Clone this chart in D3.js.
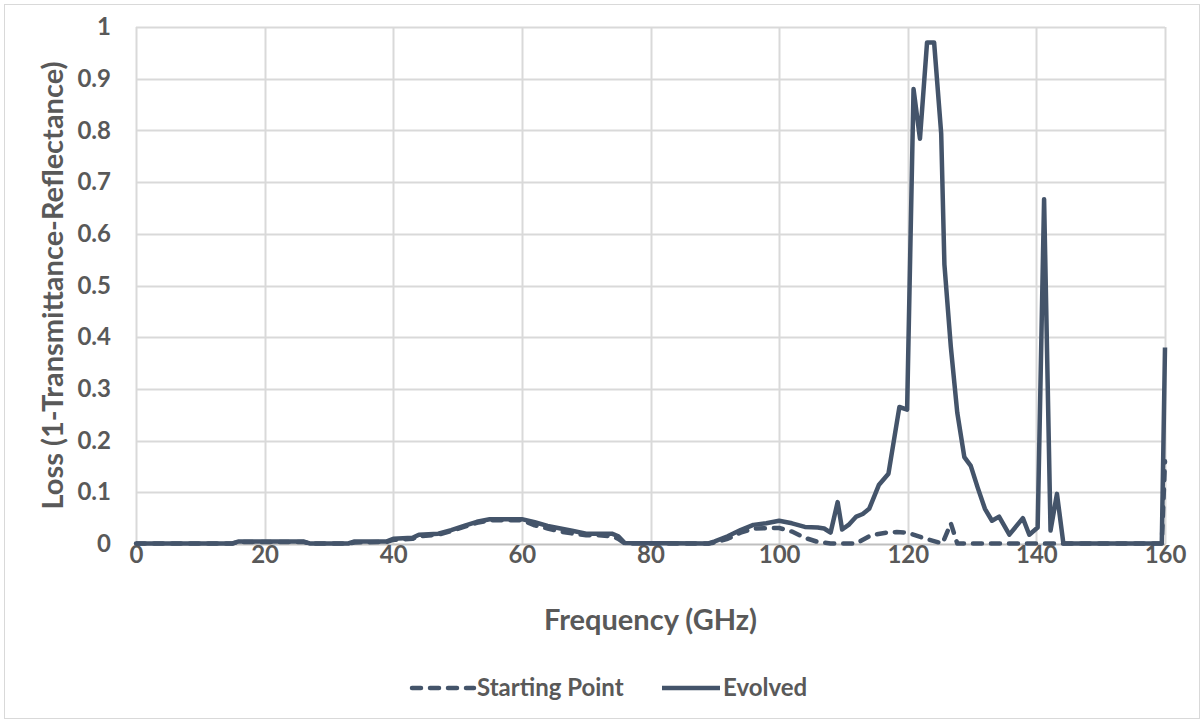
<!DOCTYPE html>
<html>
<head>
<meta charset="utf-8">
<script src="https://cdn.jsdelivr.net/npm/d3@7"></script>
<style>
  body { margin: 0; background: #fff; }
  text { font-family: Lato, "Open Sans", sans-serif; font-weight: bold; fill: #595959; }
</style>
</head>
<body>
<div id="chart"></div>
<script>
// Evolved design (frequency GHz, loss)
var evolvedFreq = [0, 15, 16, 26, 27, 33, 34, 39, 40, 43, 44, 47, 49, 51, 53, 55, 60, 62, 64, 66, 68, 70, 74, 75, 76, 89,
  90, 92, 94, 96, 98, 100, 102, 104, 106, 107, 108, 109.1, 109.8, 110.9, 112, 113, 114, 115.5, 117, 118.7, 119.9,
  120.9, 121.9, 123, 124.1, 125.2, 125.7, 126.7, 127.7, 128.8, 129.8, 130.9, 132, 133.1, 134.2, 135.8, 137.9, 138.9,
  140.2, 141.2, 142.2, 143.2, 144.2, 159.5, 160];
var evolvedLoss = [0.001, 0.001, 0.005, 0.005, 0.001, 0.001, 0.005, 0.005, 0.01, 0.012, 0.018, 0.02, 0.027, 0.035, 0.043, 0.048, 0.048, 0.042, 0.035, 0.03, 0.025, 0.02, 0.02, 0.015, 0.002, 0.001,
  0.005, 0.015, 0.027, 0.037, 0.04, 0.045, 0.04, 0.033, 0.032, 0.03, 0.022, 0.081, 0.028, 0.038, 0.053, 0.058, 0.068, 0.114, 0.136, 0.265, 0.26,
  0.88, 0.784, 0.97, 0.97, 0.794, 0.541, 0.381, 0.254, 0.168, 0.151, 0.108, 0.068, 0.045, 0.053, 0.018, 0.05, 0.018,
  0.032, 0.667, 0.026, 0.097, 0.001, 0.001, 0.38];

// Starting point design
var startFreq = [0, 15, 16, 26, 27, 33, 34, 39, 40, 43, 44, 47, 49, 51, 53, 55, 60, 62, 64, 66, 68, 70, 72, 74, 75, 76, 89,
  90, 92, 94, 96, 100, 102, 104, 106, 108, 112, 114.3, 116.7, 118.3, 120, 122.6, 125.4, 126.7, 127.7, 159.5, 160];
var startLoss = [0.001, 0.001, 0.004, 0.004, 0.001, 0.001, 0.003, 0.004, 0.008, 0.01, 0.015, 0.018, 0.025, 0.033, 0.041, 0.046, 0.046, 0.036, 0.03, 0.024, 0.02, 0.017, 0.017, 0.015, 0.01, 0.001, 0.001,
  0.003, 0.01, 0.022, 0.03, 0.031, 0.024, 0.012, 0.004, 0.001, 0.001, 0.017, 0.022, 0.023, 0.022, 0.011, 0.001, 0.04, 0.001, 0.001, 0.16];

var xTicks = [0, 20, 40, 60, 80, 100, 120, 140, 160];
var yTicks = [0, 0.1, 0.2, 0.3, 0.4, 0.5, 0.6, 0.7, 0.8, 0.9, 1];
var seriesNames = ["Starting Point", "Evolved"];

var svgWidth = 1204;
var svgHeight = 723;
var margin = { top: 27, right: 39, bottom: 179, left: 136 };
var width = svgWidth - margin.left - margin.right;
var height = svgHeight - margin.top - margin.bottom;
var lineColor = "#44546a";

var svg = d3.select("#chart")
  .append("svg")
  .attr("width", svgWidth)
  .attr("height", svgHeight);

// chart border
svg.append("rect")
  .attr("x", 4.5).attr("y", 4.5)
  .attr("width", 1195).attr("height", 714)
  .attr("fill", "#fff")
  .attr("stroke", "#d9d9d9");

var chartGroup = svg.append("g")
  .attr("transform", `translate(${margin.left}, ${margin.top})`);

var x = d3.scaleLinear().domain([0, 160]).range([0, width]);
var y = d3.scaleLinear().domain([0, 1]).range([height, 0]);

// gridlines
chartGroup.append("g")
  .selectAll("line.h")
  .data(yTicks.filter(d => d > 0))
  .enter().append("line")
  .attr("x1", 0).attr("x2", width)
  .attr("y1", d => Math.round(y(d)) + 0.5)
  .attr("y2", d => Math.round(y(d)) + 0.5)
  .attr("stroke", "#d9d9d9").attr("stroke-width", 2);

chartGroup.append("g")
  .selectAll("line.v")
  .data(xTicks)
  .enter().append("line")
  .attr("y1", 0).attr("y2", height)
  .attr("x1", d => Math.round(x(d)) + 0.5)
  .attr("x2", d => Math.round(x(d)) + 0.5)
  .attr("stroke", "#d9d9d9").attr("stroke-width", 2);

// axes
var xAxis = d3.axisBottom(x).tickValues(xTicks).tickSize(0).tickPadding(2);
var yAxis = d3.axisLeft(y).tickValues(yTicks).tickSize(0).tickPadding(25).tickFormat(d => d3.format("")(+d.toFixed(1)));

var gx = chartGroup.append("g")
  .attr("transform", `translate(0, ${height})`)
  .call(xAxis);
gx.select(".domain").attr("stroke", "#bfbfbf").attr("stroke-width", 2);
gx.selectAll("text").style("font-size", "24px").attr("fill", "#595959");

var gy = chartGroup.append("g").call(yAxis);
gy.select(".domain").remove();
gy.selectAll("text").style("font-size", "24px").attr("fill", "#595959");

// lines
var line = d3.line()
  .x(d => x(d[0]))
  .y(d => y(d[1]));

var startData = startFreq.map((f, i) => [f, startLoss[i]]);
var evolvedData = evolvedFreq.map((f, i) => [f, evolvedLoss[i]]);

chartGroup.append("path")
  .datum(startData)
  .attr("d", line)
  .attr("fill", "none")
  .attr("stroke", lineColor)
  .attr("stroke-width", 4.5)
  .attr("stroke-linecap", "round")
  .attr("stroke-linejoin", "round")
  .attr("stroke-dasharray", "9,9");

chartGroup.append("path")
  .datum(evolvedData)
  .attr("d", line)
  .attr("fill", "none")
  .attr("stroke", lineColor)
  .attr("stroke-width", 4.5)
  .attr("stroke-linejoin", "round");

// axis titles
svg.append("text")
  .attr("x", margin.left + width / 2)
  .attr("y", 630)
  .attr("text-anchor", "middle")
  .style("font-size", "29px")
  .text("Frequency (GHz)");

svg.append("text")
  .attr("transform", `translate(63, ${margin.top + height / 2}) rotate(-90)`)
  .attr("text-anchor", "middle")
  .style("font-size", "29px")
  .text("Loss (1-Transmittance-Reflectance)");

// legend
var legend = svg.append("g").attr("transform", "translate(0, 688)");
var legendItems = [
  { name: seriesNames[0], x1: 412, x2: 474, dash: "9,9", cap: "round" },
  { name: seriesNames[1], x1: 662, x2: 720, dash: null, cap: "butt" }
];
legendItems.forEach(function(item) {
  legend.append("line")
    .attr("x1", item.x1).attr("x2", item.x2)
    .attr("y1", 0).attr("y2", 0)
    .attr("stroke", lineColor)
    .attr("stroke-width", 4.5)
    .attr("stroke-linecap", item.cap)
    .attr("stroke-dasharray", item.dash);
  legend.append("text")
    .attr("x", item.x2 + 3)
    .attr("y", 8)
    .style("font-size", "24px")
    .text(item.name);
});
</script>
</body>
</html>
